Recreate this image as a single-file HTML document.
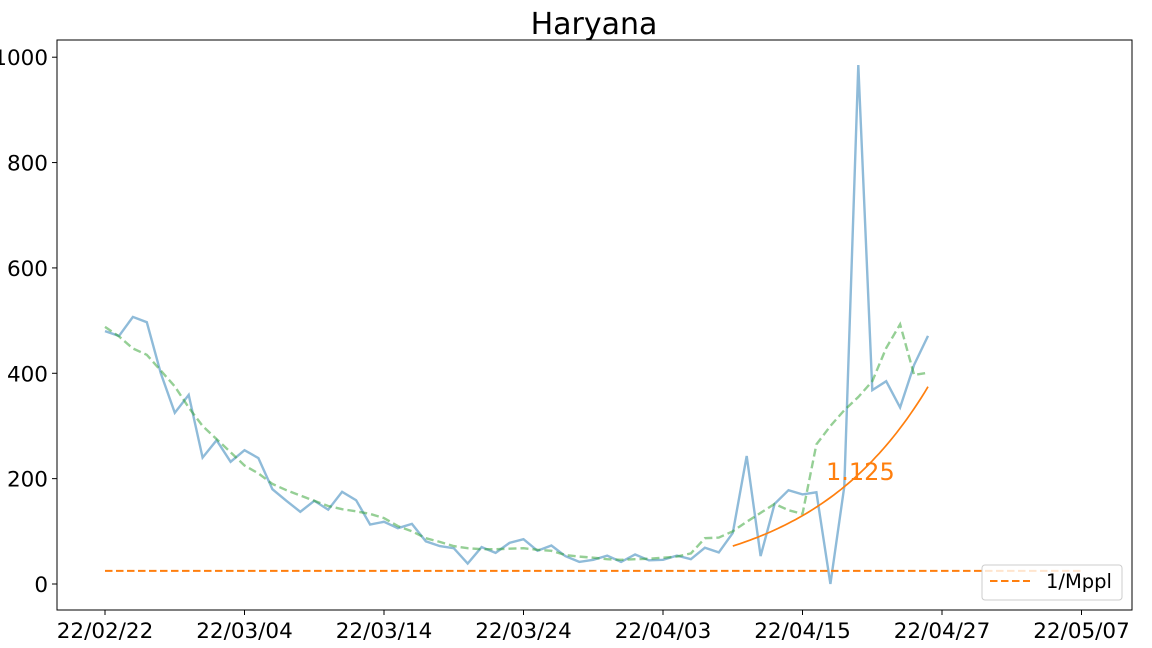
<!DOCTYPE html>
<html><head><meta charset="utf-8"><style>
html,body{margin:0;padding:0;background:#fff;}
svg{display:block;font-family:"DejaVu Sans","Liberation Sans",sans-serif;}
</style></head><body>
<svg id="chart" width="1152" height="648" viewBox="0 0 1152 648" xmlns="http://www.w3.org/2000/svg">
<text x="594" y="34" font-size="30" text-anchor="middle" fill="#000">Haryana</text>
<g id="plot"></g>
</svg>
<script>
const xTickLabels = ["22/02/22","22/03/04","22/03/14","22/03/24","22/04/03","22/04/15","22/04/27","22/05/07"];
const xTickIdx = [0,10,20,30,40,50,60,70];
const yTicks = [0,200,400,600,800,1000];
const daily = [480,471,507,497,400,325,359,240,273,232,254,239,180,158,137,158,141,175,159,113,118,106,114,81,72,68,39,70,59,78,85,63,73,53,42,46,54,42,56,45,46,54,47,69,60,97,243,53,152,178,170,174,0,185,985,368,385,335,416,471];
const avg = [488,470,447,435,405,375,335,300,275,250,225,210,190,178,168,158,148,142,138,133,125,110,100,87,80,72,68,66,66,67,68,65,63,55,52,50,47,46,47,48,50,52,58,87,88,100,118,135,152,140,133,265,300,330,355,385,448,493,397,401];
const fitStart = 45, fitEnd = 59, fitBase = 72, fitRate = 1.125;
const mpplValue = 25, mpplStart = 0, mpplEnd = 70;

const L=57,T=40,R=1132,B=610;
const x = i => 105 + i*13.95;
const y = v => 584 - v*0.5268;
const NS="http://www.w3.org/2000/svg";
const g=document.getElementById('plot');
function mk(tag,attrs,parent){const e=document.createElementNS(NS,tag);for(const k in attrs)e.setAttribute(k,attrs[k]);(parent||g).appendChild(e);return e;}

const pts = arr => arr.map((v,i)=>x(i).toFixed(1)+','+y(v).toFixed(1)).join(' ');
let e;
e=mk('polyline',{points:pts(daily),fill:'none',stroke:'#1f77b4','stroke-opacity':0.5,'stroke-width':2.4});


e=mk('polyline',{points:pts(avg),fill:'none',stroke:'#2ca02c','stroke-opacity':0.5,'stroke-width':2.4,'stroke-dasharray':'8,4'});


let fp=[];
for(let t=fitStart;t<=fitEnd;t+=0.25){fp.push(x(t).toFixed(1)+','+y(fitBase*Math.pow(fitRate,t-fitStart)).toFixed(1));}
e=mk('polyline',{points:fp.join(' '),fill:'none',stroke:'#ff7f0e','stroke-width':1.7});


e=mk('text',{x:826,y:480,'font-size':24,fill:'#ff7f0e'});
e.textContent=fitRate.toFixed(3);


e=mk('line',{x1:x(mpplStart),x2:x(mpplEnd),y1:y(mpplValue),y2:y(mpplValue),stroke:'#ff7f0e','stroke-width':2,'stroke-dasharray':'7.5,3.5'});



e=mk('rect',{x:L,y:T,width:R-L,height:B-T,fill:'none',stroke:'#000','stroke-width':1});


xTickIdx.forEach((idx,k)=>{
  const xx=x(idx);
  mk('line',{x1:xx,x2:xx,y1:B,y2:B+5,stroke:'#000'});
  const t=mk('text',{x:xx,y:B+28,'font-size':21.5,'text-anchor':'middle',fill:'#000'});
  t.textContent=xTickLabels[k];
  
  
});
yTicks.forEach(v=>{
  const yy=y(v);
  mk('line',{x1:L-5,x2:L,y1:yy,y2:yy,stroke:'#000'});
  const t=mk('text',{x:L-9,y:yy+8,'font-size':21.5,'text-anchor':'end',fill:'#000'});
  t.textContent=v;
  
  
});

const lg=mk('g',{});


mk('rect',{x:982,y:565,width:140,height:35,rx:3,fill:'#fff','fill-opacity':0.8,stroke:'#ccc'},lg);
mk('line',{x1:990,x2:1030,y1:581,y2:581,stroke:'#ff7f0e','stroke-width':2,'stroke-dasharray':'7.5,3.5'},lg);
e=mk('text',{x:1046,y:588,'font-size':19.5,fill:'#000'},lg);
e.textContent='1/Mppl';


</script>
</body></html>
